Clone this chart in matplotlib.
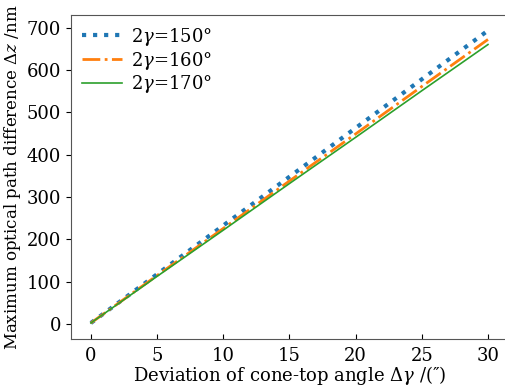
import matplotlib
matplotlib.use("Agg")
import matplotlib.pyplot as plt

# deviation of cone-top angle (arcsec)
dgamma = [0, 5, 10, 15, 20, 25, 30]
# max optical path difference (nm) for each cone angle
dz_150 = [3, 118, 233, 348, 463, 578, 693]
dz_160 = [3, 115, 226, 338, 449, 561, 672]
dz_170 = [3, 113, 222, 332, 441, 551, 660]
labels = [r"$2\gamma$=150°", r"$2\gamma$=160°", r"$2\gamma$=170°"]

plt.rcParams["font.family"] = "DejaVu Serif"
plt.rcParams["mathtext.fontset"] = "dejavuserif"

fig = plt.figure(figsize=(5.05, 3.9), dpi=100)
ax = fig.add_axes([0.1406, 0.1308, 0.865, 0.8308])

ax.plot(dgamma, dz_150, ":", color="tab:blue", lw=3, label=labels[0])
ax.plot(dgamma, dz_160, "-.", color="tab:orange", lw=2, label=labels[1])
ax.plot(dgamma, dz_170, "-", color="tab:green", lw=1.2, label=labels[2])

ax.set_xlim(-1.5, 31.5)
ax.set_ylim(-34.75, 729.75)
ax.set_xticks([0, 5, 10, 15, 20, 25, 30])
ax.set_yticks(range(0, 701, 100))
ax.tick_params(axis="x", direction="in", labelsize=13, length=3.5, pad=6)
ax.tick_params(axis="y", direction="out", labelsize=13, length=3.5)
for s in ax.spines.values():
    s.set_color("#555555")
# the original is cropped just left of the right spine
ax.spines["right"].set_visible(False)

ax.set_xlabel(r"Deviation of cone-top angle $\Delta\gamma$ /(″)", fontsize=13, labelpad=-1)
ax.set_ylabel(r"Maximum optical path difference $\Delta z$ /nm", fontsize=12, labelpad=3)

ax.legend(loc="upper left", frameon=False, fontsize=13, handlelength=2.2,
          labelspacing=0.1, borderaxespad=0.2, handletextpad=0.5)

fig.savefig("out.png", dpi=100)
